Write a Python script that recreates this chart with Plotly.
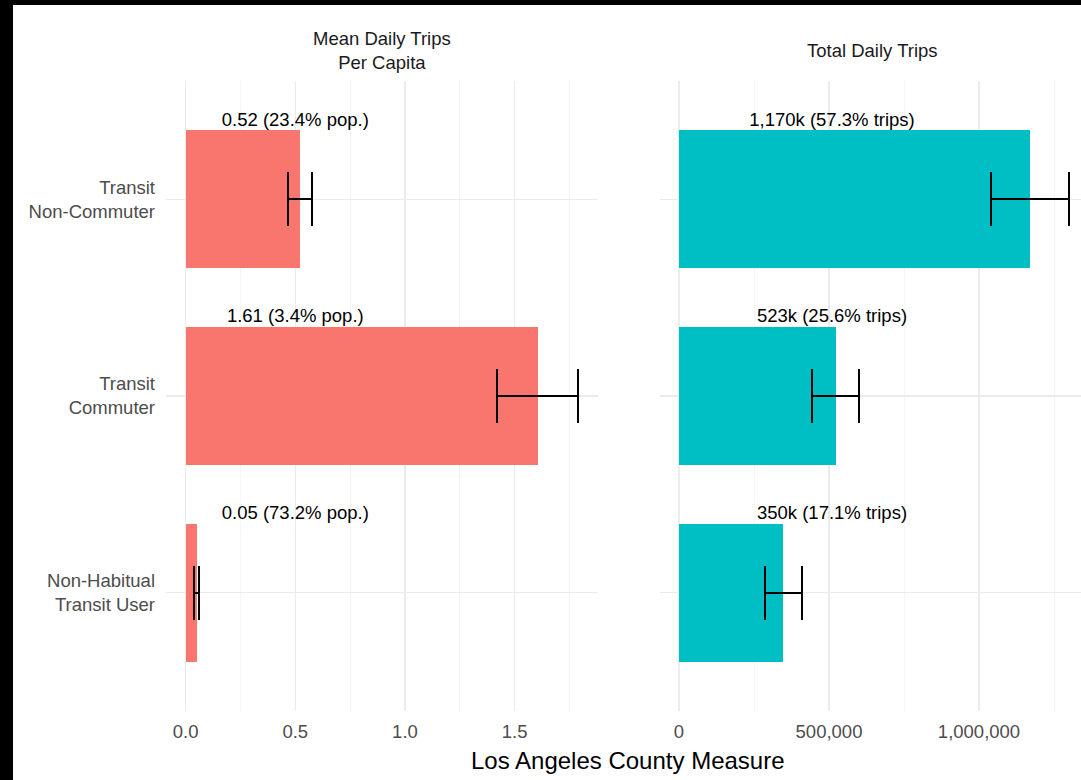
import plotly.graph_objects as go

W, H = 1081, 780

categories = ["Transit<br>Non-Commuter", "Transit<br>Commuter", "Non-Habitual<br>Transit User"]
mean_trips = [0.52, 1.605, 0.05]
mean_err = [0.055, 0.185, 0.01]
mean_labels = ["0.52 (23.4% pop.)", "1.61 (3.4% pop.)", "0.05 (73.2% pop.)"]
total_trips = [1170000, 522000, 348000]
total_err = [130000, 79000, 61000]
total_labels = ["1,170k (57.3% trips)", "523k (25.6% trips)", "350k (17.1% trips)"]
panel_titles = ["Mean Daily Trips<br>Per Capita", "Total Daily Trips"]
left_ticks = [0.0, 0.5, 1.0, 1.5]
right_ticks = [0, 500000, 1000000]
label_x = [0.5, 510000]

RED = "#F8766D"
TEAL = "#00BFC4"
FONT = "Liberation Sans, Arial, sans-serif"
BAR_W = 0.7
FS = 18.5

n = len(categories)
ypos = [n - 1 - i for i in range(n)]
ylab = [p + BAR_W / 2 for p in ypos]

fig = go.Figure()

fig.add_trace(go.Bar(
    x=mean_trips, y=ypos, orientation="h", width=BAR_W,
    marker=dict(color=RED, line=dict(width=0)),
    error_x=dict(type="data", array=mean_err, color="black", thickness=2, width=27),
    xaxis="x", yaxis="y", showlegend=False,
))
fig.add_trace(go.Bar(
    x=total_trips, y=ypos, orientation="h", width=BAR_W,
    marker=dict(color=TEAL, line=dict(width=0)),
    error_x=dict(type="data", array=total_err, color="black", thickness=2, width=27),
    xaxis="x2", yaxis="y2", showlegend=False,
))
fig.add_trace(go.Scatter(
    x=[label_x[0]] * n, y=ylab, mode="text", text=mean_labels,
    textposition="top center", textfont=dict(size=FS, color="black", family=FONT),
    xaxis="x", yaxis="y", showlegend=False, hoverinfo="skip",
))
fig.add_trace(go.Scatter(
    x=[label_x[1]] * n, y=ylab, mode="text", text=total_labels,
    textposition="top center", textfont=dict(size=FS, color="black", family=FONT),
    xaxis="x2", yaxis="y2", showlegend=False, hoverinfo="skip",
))

def px_x(p):
    return p / W

def px_y(p):
    return 1 - p / H

GRID = "#EBEBEB"
MINOR = "#F3F3F3"
ydom = [px_y(711), px_y(81)]
tickfont = dict(size=FS, color="#4D4D4D", family=FONT)

common_x = dict(showline=False, zeroline=False, ticks="", showgrid=True, gridcolor=GRID,
                gridwidth=1.2, tickfont=tickfont, automargin=False, fixedrange=True,
                ticklabelstandoff=7)
common_y = dict(showline=False, zeroline=False, ticks="", showgrid=True, gridcolor=GRID,
                gridwidth=1.2, range=[-0.6, n - 1 + 0.6], tickvals=ypos,
                automargin=False, domain=ydom, fixedrange=True)

fig.update_layout(
    width=W, height=H,
    margin=dict(l=0, r=0, t=0, b=0),
    paper_bgcolor="white", plot_bgcolor="white",
    font=dict(family=FONT),
    bargap=0,
    xaxis=dict(domain=[px_x(166), px_x(598)], range=[-0.0895, 1.88], tickvals=left_ticks,
               tickformat=".1f", anchor="y",
               minor=dict(dtick=0.25, tick0=0, showgrid=True, gridcolor=MINOR, gridwidth=0.8),
               **common_x),
    xaxis2=dict(domain=[px_x(659.5), 1], range=[-65000, 1340000], tickvals=right_ticks,
                tickformat=",", anchor="y2",
                minor=dict(dtick=250000, tick0=0, showgrid=True, gridcolor=MINOR, gridwidth=0.8),
                **common_x),
    yaxis=dict(anchor="x", ticktext=categories, tickfont=tickfont, ticklabelstandoff=10,
               **common_y),
    yaxis2=dict(anchor="x2", showticklabels=False, **common_y),
    shapes=[
        dict(type="rect", xref="paper", yref="paper", x0=0, x1=px_x(13), y0=0, y1=1,
             fillcolor="black", line=dict(width=0), layer="above"),
        dict(type="rect", xref="paper", yref="paper", x0=0, x1=1, y0=px_y(5), y1=1,
             fillcolor="black", line=dict(width=0), layer="above"),
    ],
    annotations=[
        dict(text=panel_titles[0], x=px_x(382), y=px_y(51), xref="paper", yref="paper",
             showarrow=False, xanchor="center", yanchor="middle",
             font=dict(size=FS, color="#1A1A1A", family=FONT)),
        dict(text=panel_titles[1], x=px_x(872), y=px_y(51), xref="paper", yref="paper",
             showarrow=False, xanchor="center", yanchor="middle",
             font=dict(size=FS, color="#1A1A1A", family=FONT)),
        dict(text="Los Angeles County Measure", x=px_x(627.5), y=px_y(760), xref="paper",
             yref="paper", showarrow=False, xanchor="center", yanchor="middle",
             font=dict(size=24, color="black", family=FONT)),
    ],
)

fig.write_html(
    "out.html",
    config={"displayModeBar": False, "staticPlot": True},
    post_script="document.body.style.margin='0px';document.body.style.overflow='hidden';",
)
